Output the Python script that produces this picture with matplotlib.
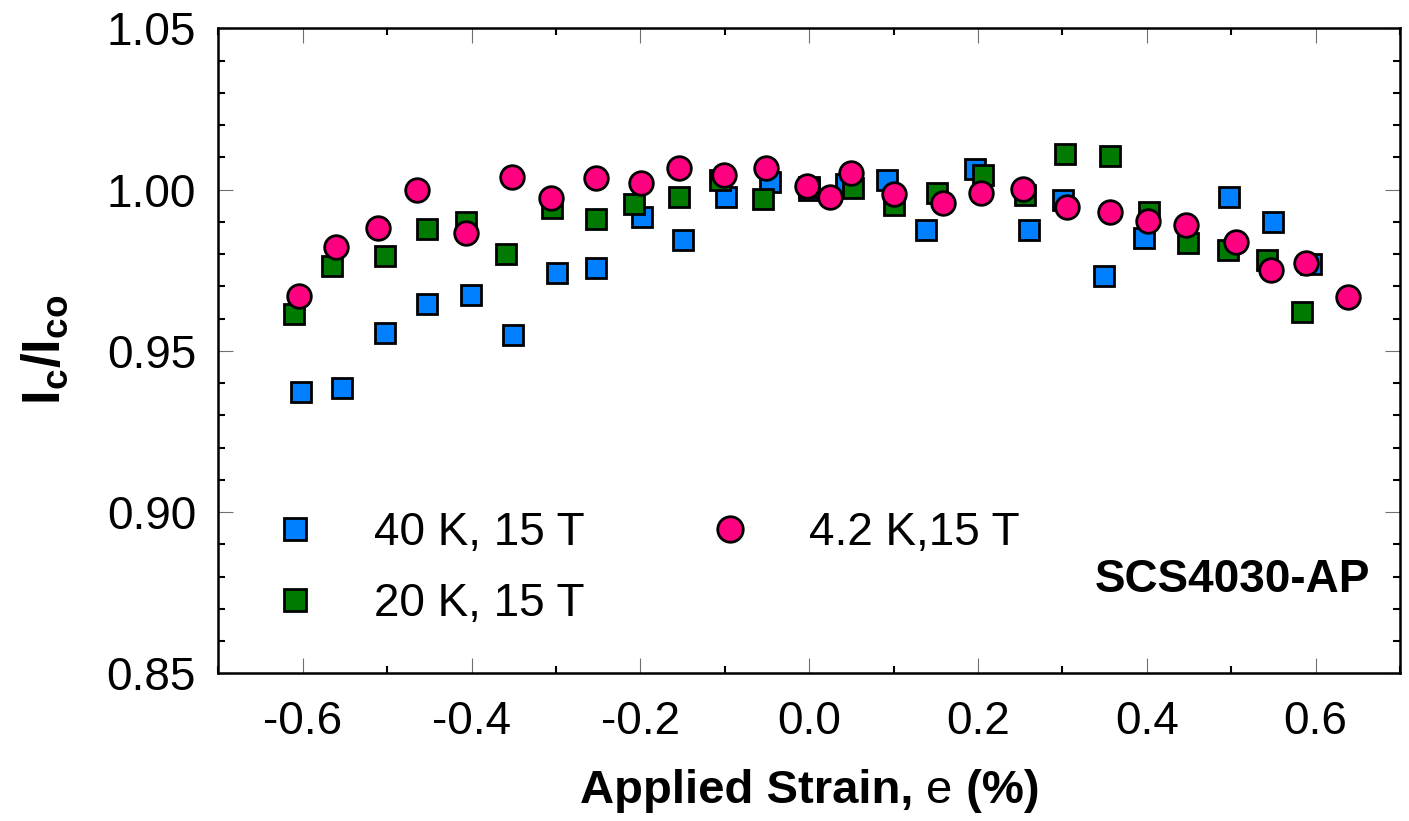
import matplotlib
matplotlib.use("Agg")
import matplotlib.pyplot as plt
from matplotlib.ticker import MultipleLocator, FormatStrFormatter
from matplotlib.offsetbox import TextArea, HPacker, AnchoredOffsetbox

plt.rcParams['font.family'] = ['Liberation Sans', 'DejaVu Sans']
plt.rcParams['mathtext.fontset'] = 'custom'
plt.rcParams['mathtext.rm'] = 'Liberation Sans'
plt.rcParams['mathtext.bf'] = 'Liberation Sans:bold'
plt.rcParams['mathtext.it'] = 'Liberation Sans:italic'

# ---- data ----
strain_40K = [-0.602, -0.554, -0.503, -0.453, -0.401, -0.351, -0.299, -0.252, -0.198, -0.150,
              -0.099, -0.046, 0.000, 0.044, 0.092, 0.139, 0.196, 0.260, 0.301, 0.349,
              0.397, 0.498, 0.549, 0.594]
ic_40K = [0.9373, 0.9384, 0.9556, 0.9644, 0.9672, 0.9549, 0.9742, 0.9758, 0.9916, 0.9844,
          0.9976, 1.0024, 1.0000, 1.0017, 1.0030, 0.9875, 1.0064, 0.9875, 0.9968, 0.9732,
          0.9849, 0.9978, 0.9898, 0.9768]

strain_20K = [-0.610, -0.565, -0.502, -0.453, -0.406, -0.359, -0.305, -0.253, -0.207, -0.154,
              -0.106, -0.055, 0.000, 0.052, 0.101, 0.151, 0.206, 0.256, 0.303, 0.356,
              0.403, 0.449, 0.496, 0.543, 0.584]
ic_20K = [0.9614, 0.9763, 0.9794, 0.9877, 0.9900, 0.9800, 0.9942, 0.9908, 0.9954, 0.9978,
          1.0030, 0.9970, 1.0009, 1.0005, 0.9952, 0.9990, 1.0045, 0.9983, 1.0109, 1.0105,
          0.9931, 0.9833, 0.9813, 0.9782, 0.9621]

strain_4K = [-0.604, -0.560, -0.511, -0.465, -0.406, -0.352, -0.306, -0.252, -0.199, -0.154,
             -0.101, -0.051, -0.003, 0.025, 0.050, 0.101, 0.159, 0.204, 0.253, 0.305,
             0.357, 0.401, 0.446, 0.506, 0.547, 0.589, 0.638]
ic_4K = [0.9670, 0.9823, 0.9880, 1.0000, 0.9864, 1.0040, 0.9973, 1.0035, 1.0019, 1.0068,
         1.0045, 1.0068, 1.0011, 0.9978, 1.0052, 0.9986, 0.9957, 0.9988, 1.0002, 0.9947,
         0.9929, 0.9903, 0.9890, 0.9838, 0.9751, 0.9771, 0.9668]

labels = ["40 K, 15 T", "20 K, 15 T", "4.2 K,15 T"]
colors = ["#0080FF", "#007A00", "#FF0080"]
sample_name = "SCS4030-AP"

W, H = 1409, 821
fig = plt.figure(figsize=(W / 100, H / 100), dpi=100)
ax = fig.add_axes([218.3 / W, 1 - 673.3 / H, (1400 - 218.3) / W, (673.3 - 28.3) / H])

h1, = ax.plot(strain_40K, ic_40K, linestyle='none', marker='s', ms=15, mfc=colors[0],
              mec='black', mew=2.0, label=labels[0], zorder=3)
h2, = ax.plot(strain_20K, ic_20K, linestyle='none', marker='s', ms=15, mfc=colors[1],
              mec='black', mew=2.0, label=labels[1], zorder=4)
h3, = ax.plot(strain_4K, ic_4K, linestyle='none', marker='o', ms=17, mfc=colors[2],
              mec='black', mew=2.0, label=labels[2], zorder=5)

ax.set_xlim(-0.7, 0.7)
ax.set_ylim(0.85, 1.05)
ax.xaxis.set_major_locator(MultipleLocator(0.2))
ax.xaxis.set_minor_locator(MultipleLocator(0.1))
ax.yaxis.set_major_locator(MultipleLocator(0.05))
ax.yaxis.set_minor_locator(MultipleLocator(0.01))
ax.xaxis.set_major_formatter(FormatStrFormatter('%.1f'))
ax.yaxis.set_major_formatter(FormatStrFormatter('%.2f'))

for s in ax.spines.values():
    s.set_linewidth(1.8)

ax.tick_params(which='both', direction='in', top=True, right=True)
ax.tick_params(which='major', length=10.8, width=0.8, color='#707070', labelsize=33)
ax.tick_params(which='minor', length=5.0, width=1.5, color='black')
ax.tick_params(axis='x', which='major', pad=19)
ax.tick_params(axis='y', which='major', pad=16)

# legend
leg = ax.legend(handles=[h1, h2, h3], ncol=2, frameon=False, fontsize=33,
                loc='upper left', bbox_to_anchor=(272 / W, 1 - 511 / H),
                bbox_transform=fig.transFigure, borderpad=0, borderaxespad=0,
                handlelength=1.0, handletextpad=1.225, columnspacing=2.68,
                labelspacing=0.58, numpoints=1, markerscale=1.08)

# sample name
fig.text(1370 / W, 1 - 592 / H, sample_name, ha='right', va='baseline',
         fontsize=33, fontweight='bold')

# y label
fig.text(45 / W, 1 - 350 / H, r"$\mathbf{I_c/I_{co}}$", rotation=90,
         ha='center', va='center', fontsize=38)

# x label with mixed weights
parts = [TextArea("Applied Strain, ", textprops=dict(fontsize=34, fontweight='bold')),
         TextArea("e", textprops=dict(fontsize=34, fontweight='normal')),
         TextArea(" (%)", textprops=dict(fontsize=34, fontweight='bold'))]
pack = HPacker(children=parts, pad=0, sep=0, align='baseline')
box = AnchoredOffsetbox(loc='center', child=pack, pad=0, borderpad=0, frameon=False,
                        bbox_to_anchor=(809.5 / W, 1 - 791 / H),
                        bbox_transform=fig.transFigure)
fig.add_artist(box)

fig.savefig("out.png", dpi=100)
